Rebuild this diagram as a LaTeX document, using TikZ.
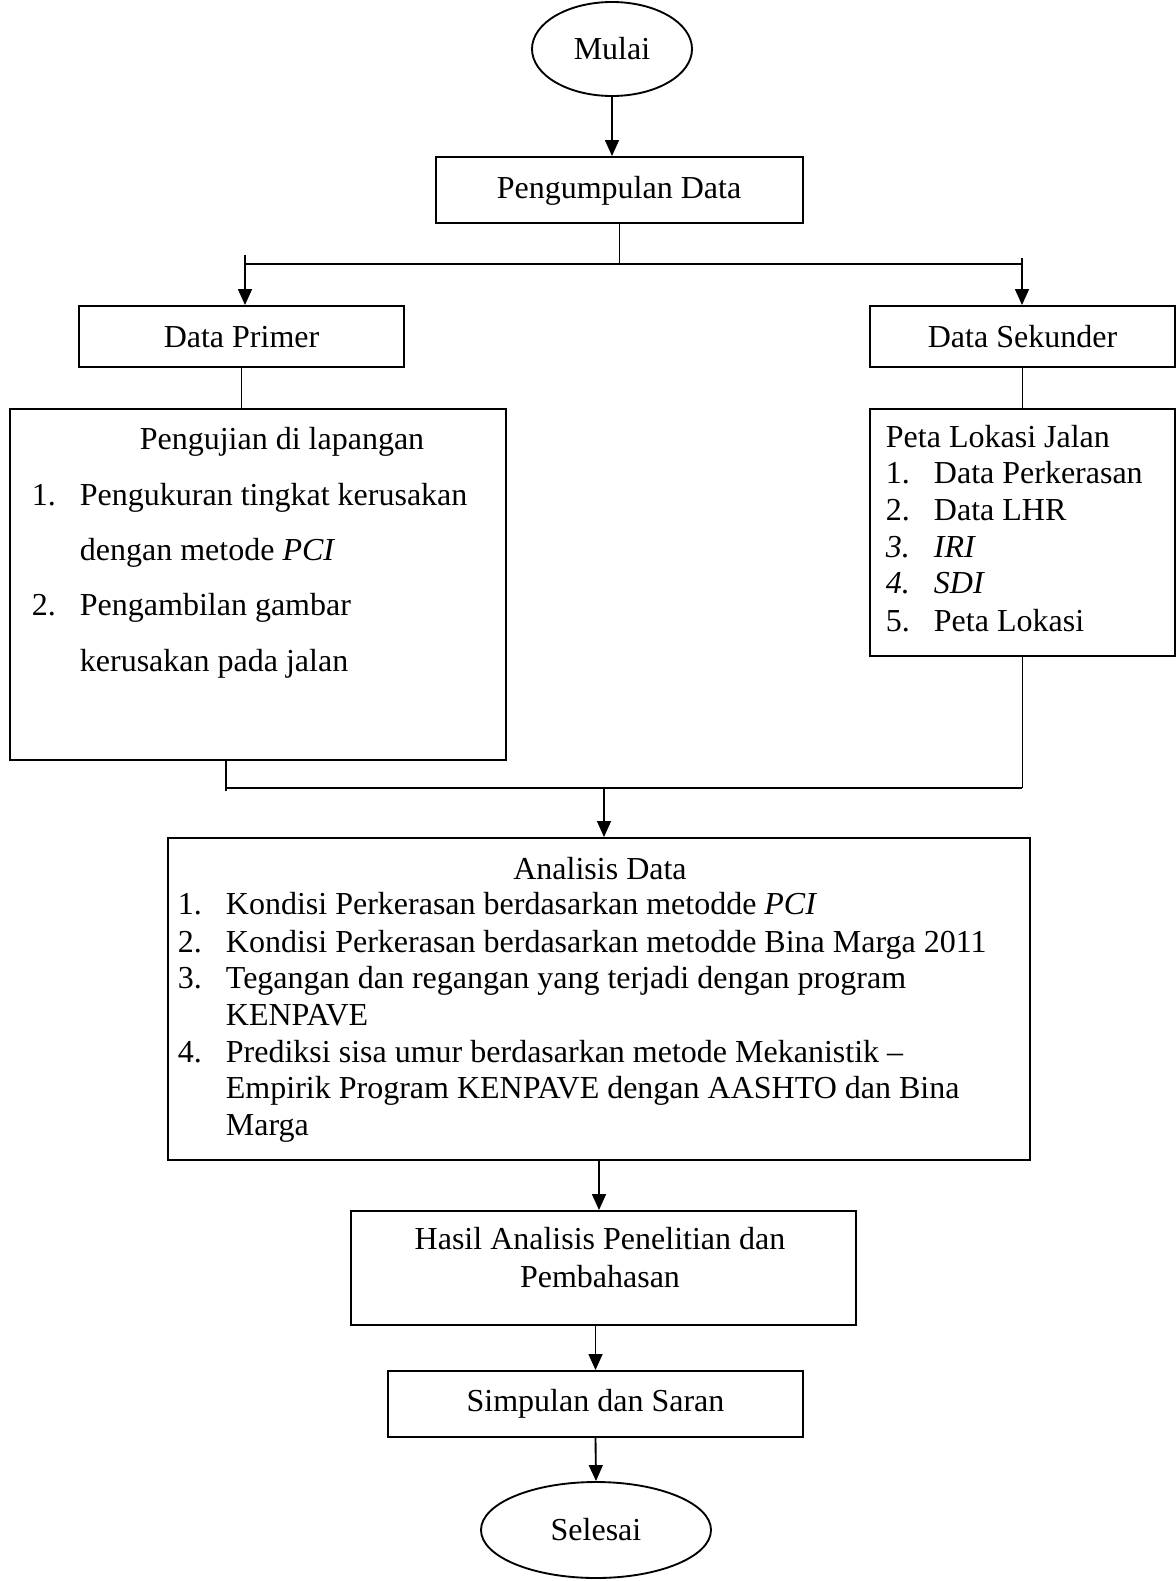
\documentclass[tikz,border=0pt]{standalone}
\usepackage{fontspec}
\setmainfont{Liberation Serif}
\usetikzlibrary{arrows.meta,fit,shapes.geometric}
\begin{document}
\begin{tikzpicture}[x=0.375pt,y=-0.375pt, line width=0.7pt,
  font=\fontsize{12}{14}\selectfont,
  boxnode/.style={draw, rectangle, inner sep=0pt},
  ovalnode/.style={draw, ellipse, inner sep=0pt},
  arr/.style={-{Triangle[length=6pt,width=5.2pt]}},
  txt/.style={inner sep=0pt, anchor=base},
  txtl/.style={inner sep=0pt, anchor=base west}]
\useasboundingbox (0,0) rectangle (1176,1581);

% start
\node[ovalnode, minimum width=160*0.375pt, minimum height=94*0.375pt] (mulai) at (612,49) {Mulai};

% boxes
\node[boxnode, fit={(436,157) (803,223)}] (kumpul) {};
\node[txt] (kumpulT) at (619,198) {Pengumpulan Data};
\node[boxnode, fit={(79,306) (404,367)}] (primer) {};
\node[txt] (primerT) at (241.5,347) {Data Primer};
\node[boxnode, fit={(870,306) (1175,367)}] (sekunder) {};
\node[txt] (sekunderT) at (1022.5,347) {Data Sekunder};

% left big box
\node[boxnode, fit={(10,409) (506,760)}] (uji) {};
\node[txt] (ujiT) at (282,449) {Pengujian di lapangan};
\node[txtl] (ujiN1) at (31,505) {1.};
\node[txtl] (uji1) at (79,505) {Pengukuran tingkat kerusakan};
\node[txtl] (uji1b) at (79,560) {dengan metode \textit{PCI}};
\node[txtl] (ujiN2) at (31,615) {2.};
\node[txtl] (uji2) at (79,615) {Pengambilan gambar};
\node[txtl] (uji2b) at (79,671) {kerusakan pada jalan};

% right box
\node[boxnode, fit={(870,409) (1175,656)}] (peta) {};
\node[txtl] (petaT) at (885,447) {Peta Lokasi Jalan};
\node[txtl] (petaN1) at (885,483) {1.};
\node[txtl] (peta1) at (933,483) {Data Perkerasan};
\node[txtl] (petaN2) at (885,520) {2.};
\node[txtl] (peta2) at (933,520) {Data LHR};
\node[txtl] (petaN3) at (885,557) {\textit{3.}};
\node[txtl] (peta3) at (933,557) {\textit{IRI}};
\node[txtl] (petaN4) at (885,593) {\textit{4.}};
\node[txtl] (peta4) at (933,593) {\textit{SDI}};
\node[txtl] (petaN5) at (885,631) {5.};
\node[txtl] (peta5) at (933,631) {Peta Lokasi};

% analysis box
\node[boxnode, fit={(168,838) (1030,1160)}] (analisis) {};
\node[txt] (analisisT) at (600,879) {Analisis Data};
\node[txtl] (anN1) at (177,914) {1.};
\node[txtl] (an1) at (225,914) {Kondisi Perkerasan berdasarkan metodde \textit{PCI}};
\node[txtl] (anN2) at (177,952) {2.};
\node[txtl] (an2) at (225,952) {Kondisi Perkerasan berdasarkan metodde Bina Marga 2011};
\node[txtl] (anN3) at (177,988) {3.};
\node[txtl] (an3) at (225,988) {Tegangan dan regangan yang terjadi dengan program};
\node[txtl] (an3b) at (225,1025) {KENPAVE};
\node[txtl] (anN4) at (177,1062) {4.};
\node[txtl] (an4) at (225,1062) {Prediksi sisa umur berdasarkan metode Mekanistik --};
\node[txtl] (an4b) at (225,1098) {Empirik Program KENPAVE dengan AASHTO dan Bina};
\node[txtl] (an4c) at (225,1135) {Marga};

% results
\node[boxnode, fit={(351,1211) (856,1325)}] (hasil) {};
\node[txt] (hasilT1) at (600,1249) {Hasil Analisis Penelitian dan};
\node[txt] (hasilT2) at (600,1287) {Pembahasan};
\node[boxnode, fit={(388,1371) (803,1437)}] (simpulan) {};
\node[txt] (simpulanT) at (595.5,1411) {Simpulan dan Saran};

% end
\node[ovalnode, minimum width=230*0.375pt, minimum height=96*0.375pt] (selesai) at (596,1530) {Selesai};

% connectors
\coordinate (jl) at (245,264);
\coordinate (jr) at (1022,264);
\coordinate (al) at (245,255);
\coordinate (ar) at (1022,258);
\coordinate (kl) at (226,791);
\coordinate (ml) at (226,788);
\coordinate (mr) at (1022,788);
\coordinate (mc) at (604,788);

\draw[arr] (mulai.south) -- (mulai.south |- kumpul.north);
\draw (kumpul.south) -- (kumpul.south |- jl);
\draw (jl) -- (jr);
\draw[arr] (al) -- (al |- primer.north);
\draw[arr] (ar) -- (ar |- sekunder.north);
\draw (primer.south) -- (primer.south |- uji.north);
\draw (sekunder.south) -- (sekunder.south |- peta.north);
\draw (kl) -- (kl |- uji.south);
\draw (ml) -- (mr);
\draw (peta.south) -- (peta.south |- mr);
\draw[arr] (mc) -- (mc |- analisis.north);
\draw[arr] (analisis.south) -- (analisis.south |- hasil.north);
\draw[arr] (hasil.south -| simpulan.north) -- (simpulan.north);
\draw[arr] (simpulan.south) -- (selesai.north);
\end{tikzpicture}
\end{document}
